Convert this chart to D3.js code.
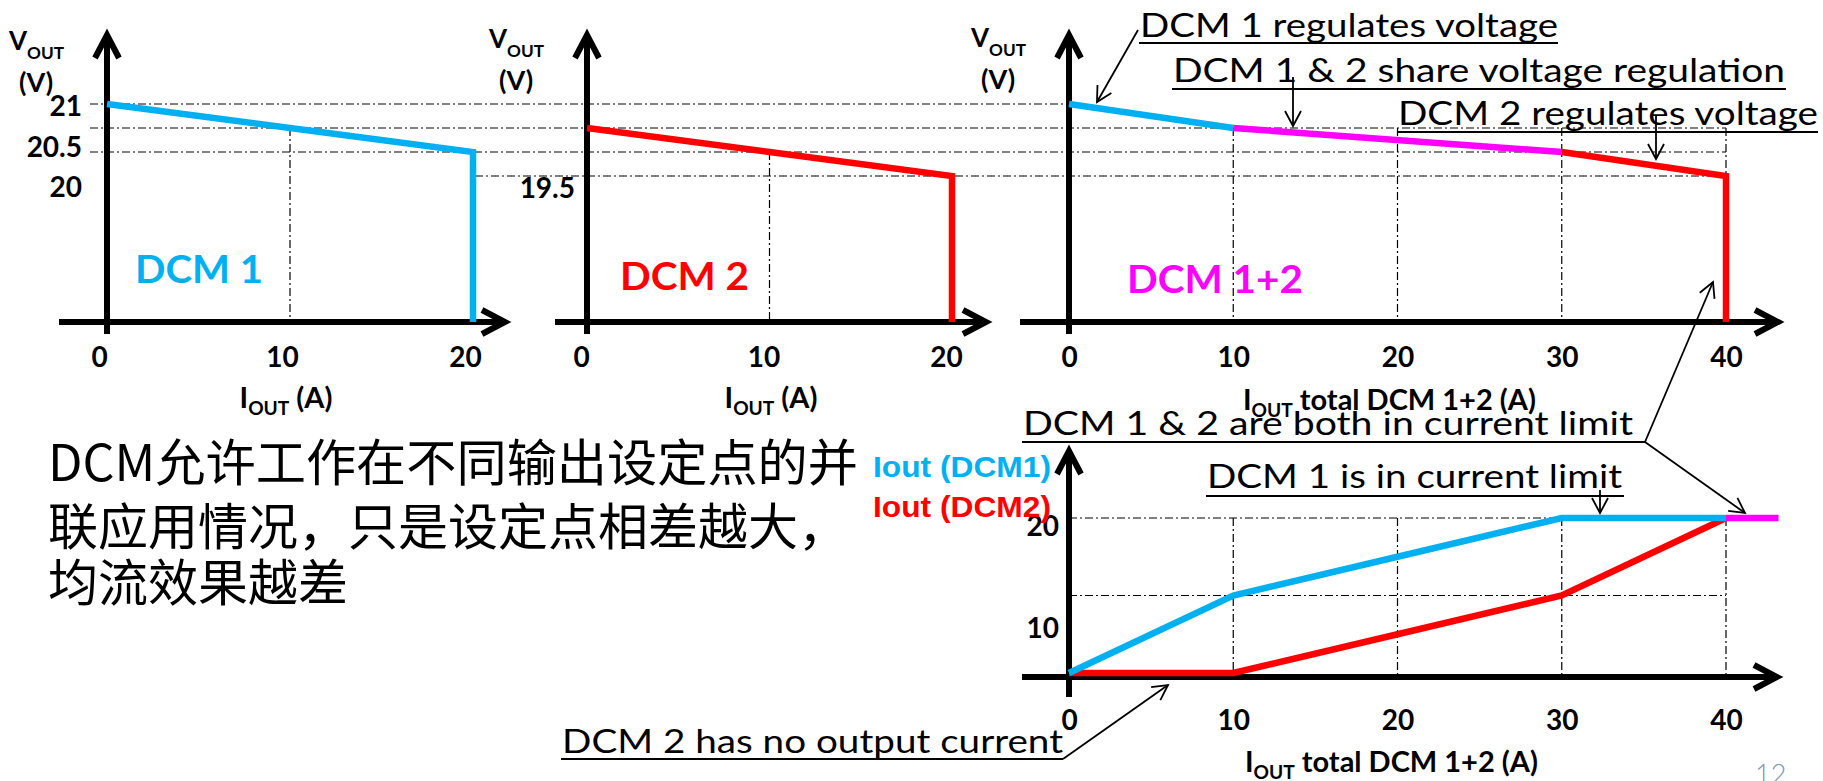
<!DOCTYPE html>
<html><head><meta charset="utf-8">
<script src="https://cdn.jsdelivr.net/npm/d3@7"></script>
<style>body{margin:0;background:#fff}svg{display:block}</style>
</head><body><svg id="c" width="1823" height="781"></svg>
<script>
// ---------- data ----------
const dcm1Current = [0, 10, 20];
const dcm1Voltage = [21, 20.75, 20.5];
const dcm2Current = [0, 10, 20];
const dcm2Voltage = [20.75, 20.5, 20.25];
const comboCurrent = [0, 10, 30, 40];
const comboVoltage = [21, 20.75, 20.5, 20.25];
const comboColors = ["#00b0f0", "#ff00ff", "#ff0000"];
const voltageGrid = [21, 20.75, 20.5, 20.25];
const totalCurrent = [0, 10, 20, 30, 40];
const dcm1Share = [0, 10, 15, 20, 20];
const dcm2Share = [0, 0, 5, 10, 20];
const bothLimitCurrent = [40, 43.2];
const bothLimitLevel = 20;
const currentGrid = [20, 10];
const xTicksSingle = [0, 10, 20];
const xTicksTotal = [0, 10, 20, 30, 40];
const vTickLabels1 = ["21", "20.5", "20"];
const vTickPos1 = [20.97, 20.55, 20.125];
const vTickLabels2 = ["19.5"];
const vTickPos2 = [20.115];
const iTickLabels = ["20", "10"];
const iTickPos = [18.9, 5.7];
const cnLines = ["DCM允许工作在不同输出设定点的并", "联应用情况，只是设定点相差越大，", "均流效果越差"];
const annotations = [
  "DCM 1 regulates voltage",
  "DCM 1 & 2 share voltage regulation",
  "DCM 2 regulates voltage",
  "DCM 1 & 2 are both in current limit",
  "DCM 1 is in current limit",
  "DCM 2 has no output current"
];

// ---------- setup ----------
const svg = d3.select("#c");
const BLUE = "#00b0f0", RED = "#ff0000", MAG = "#ff00ff";
const axisY = 322, lowAxisY = 677;
const BOLD = "Lato, 'Open Sans', sans-serif";

const yV = d3.scaleLinear().domain([20.25, 21]).range([176, 104]);
const x1 = d3.scaleLinear().domain([0, 20]).range([107, 473]);
const x2 = d3.scaleLinear().domain([0, 20]).range([587, 952]);
const x3 = d3.scaleLinear().domain([0, 40]).range([1069, 1726]);
const yI = d3.scaleLinear().domain([0, 20]).range([673, 518]);

const gridG = svg.append("g").attr("stroke", "#000").attr("stroke-width", 1.2)
  .attr("stroke-dasharray", "8,3,2,3").attr("fill", "none");
function gline(xa, ya, xb, yb) {
  gridG.append("line").attr("x1", xa).attr("y1", ya).attr("x2", xb).attr("y2", yb);
}

// ---------- grids ----------
const gridLeft = [90, 90, 90, 475];
voltageGrid.forEach((v, i) => {
  const right = i === 0 ? x3(0) : x3(40);
  gline(gridLeft[i], yV(v), right, yV(v));
});
gline(x1(10), yV(20.75), x1(10), axisY);
gline(x2(10), yV(20.5), x2(10), axisY);
[10, 20, 30, 40].forEach(c => gline(x3(c), yV(20.75), x3(c), axisY));
currentGrid.forEach(c => gline(x3(0), yI(c), x3(40), yI(c)));
[10, 20, 30, 40].forEach(c => gline(x3(c), yI(20), x3(c), lowAxisY));

// ---------- axis lines with arrows ----------
function axisArrow(xa, ya, xb, yb) {
  const g = svg.append("g").attr("stroke", "#000").attr("stroke-width", 6).attr("fill", "none");
  const dx = xb - xa, dy = yb - ya, L = Math.hypot(dx, dy), ux = dx / L, uy = dy / L, nx = -uy, ny = ux;
  g.append("line").attr("x1", xa).attr("y1", ya).attr("x2", xb - 3 * ux).attr("y2", yb - 3 * uy);
  const len = 23, hw = 12;
  g.append("polyline").attr("stroke-linejoin", "miter")
    .attr("points", [[xb - len * ux + hw * nx, yb - len * uy + hw * ny], [xb, yb], [xb - len * ux - hw * nx, yb - len * uy - hw * ny]].map(p => p.join(",")).join(" "));
}
axisArrow(59, axisY, 505, axisY); axisArrow(x1(0), 334, x1(0), 35);
axisArrow(555, axisY, 986, axisY); axisArrow(x2(0), 334, x2(0), 35);
axisArrow(1020, axisY, 1778, axisY); axisArrow(x3(0), 334, x3(0), 35);
axisArrow(1022, lowAxisY, 1777, lowAxisY); axisArrow(x3(0), 697, x3(0), 451);

// ---------- tick labels via d3 axes ----------
function styleAxis(g) {
  g.select(".domain").remove();
  g.selectAll(".tick line").remove();
  g.attr("font-family", BOLD).attr("font-size", 28).attr("font-weight", 700);
  g.selectAll("text").attr("fill", "#000");
}
svg.append("g").attr("transform", `translate(-8,${axisY})`)
  .call(d3.axisBottom(x1).tickValues(xTicksSingle).tickSize(0).tickPadding(25).tickFormat(d3.format("d"))).call(styleAxis);
svg.append("g").attr("transform", `translate(-6,${axisY})`)
  .call(d3.axisBottom(x2).tickValues(xTicksSingle).tickSize(0).tickPadding(25).tickFormat(d3.format("d"))).call(styleAxis);
svg.append("g").attr("transform", `translate(0,${axisY})`)
  .call(d3.axisBottom(x3).tickValues(xTicksTotal).tickSize(0).tickPadding(25).tickFormat(d3.format("d"))).call(styleAxis);
svg.append("g").attr("transform", `translate(0,${lowAxisY + 8})`)
  .call(d3.axisBottom(x3).tickValues(xTicksTotal).tickSize(0).tickPadding(25).tickFormat(d3.format("d"))).call(styleAxis);
svg.append("g").attr("transform", `translate(${x1(0)},0)`)
  .call(d3.axisLeft(yV).tickValues(vTickPos1).tickSize(0).tickPadding(25).tickFormat((d, i) => vTickLabels1[i])).call(styleAxis);
svg.append("g").attr("transform", `translate(${x2(0)},0)`)
  .call(d3.axisLeft(yV).tickValues(vTickPos2).tickSize(0).tickPadding(12).tickFormat((d, i) => vTickLabels2[i])).call(styleAxis);
svg.append("g").attr("transform", `translate(${x3(0)},0)`)
  .call(d3.axisLeft(yI).tickValues(iTickPos).tickSize(0).tickPadding(10).tickFormat((d, i) => iTickLabels[i])).call(styleAxis);

// ---------- data lines ----------
function drawLine(xs, ys, xsc, ysc, color, dropTo) {
  const pts = xs.map((x, i) => [xsc(x), ysc(ys[i])]);
  let d = d3.line()(pts);
  if (dropTo !== undefined) d += `L${pts[pts.length - 1][0]},${dropTo}`;
  svg.append("path").attr("d", d).attr("fill", "none").attr("stroke", color)
    .attr("stroke-width", 6.5).attr("stroke-linejoin", "miter");
}
drawLine(dcm1Current, dcm1Voltage, x1, yV, BLUE, axisY);
drawLine(dcm2Current, dcm2Voltage, x2, yV, RED, axisY);
comboColors.forEach((c, i) => {
  const last = i === comboColors.length - 1;
  drawLine(comboCurrent.slice(i, i + 2), comboVoltage.slice(i, i + 2), x3, yV, c, last ? axisY : undefined);
});
drawLine(totalCurrent, dcm2Share, x3, yI, RED);
drawLine(totalCurrent, dcm1Share, x3, yI, BLUE);
drawLine(bothLimitCurrent, [bothLimitLevel, bothLimitLevel], x3, yI, MAG);

// ---------- labels ----------
function subLabel(x, y, main, sub, rest, anchor, size, subDy) {
  const t = svg.append("text").attr("x", x).attr("y", y).attr("text-anchor", anchor)
    .attr("font-family", BOLD).attr("font-weight", 700).attr("font-size", size).attr("fill", "#000");
  t.append("tspan").text(main);
  t.append("tspan").attr("font-size", size * 0.66).attr("dy", subDy).text(sub);
  if (rest) t.append("tspan").attr("dy", -subDy).text(rest);
  return t;
}
// V_OUT (V) labels
[x1(0), x2(0), x3(0)].forEach((ax, i) => {
  const vb = [50, 48, 47][i];
  subLabel(ax - 98, vb, "V", "OUT", null, "start", 26, 9);
  svg.append("text").attr("x", ax - 71).attr("y", vb + 42).attr("text-anchor", "middle")
    .attr("font-family", BOLD).attr("font-weight", 700).attr("font-size", 27).text("(V)");
});
// I_OUT axis titles
subLabel(286, 408, "I", "OUT", " (A)", "middle", 29, 7);
subLabel(771, 408, "I", "OUT", " (A)", "middle", 29, 7);
subLabel(1243, 410, "I", "OUT", " total DCM 1+2 (A)", "start", 29, 7);
subLabel(1245, 772, "I", "OUT", " total DCM 1+2 (A)", "start", 29, 7);

function bigLabel(x, y, txt, color, w) {
  svg.append("text").attr("x", x).attr("y", y).attr("font-family", BOLD).attr("font-weight", 700)
    .attr("font-size", 39).attr("fill", color).attr("textLength", w).attr("lengthAdjust", "spacingAndGlyphs").text(txt);
}
bigLabel(135, 283, "DCM 1", BLUE, 128);
bigLabel(620, 290, "DCM 2", RED, 129);
bigLabel(1127, 293, "DCM 1+2", MAG, 176);

// legend
[["Iout (DCM1)", BLUE, 477], ["Iout (DCM2)", RED, 517]].forEach(([t, c, y]) => {
  svg.append("text").attr("x", 873).attr("y", y).attr("font-family", "'Liberation Sans', Arial, sans-serif")
    .attr("font-weight", 700).attr("font-size", 30).attr("fill", c)
    .attr("textLength", 178).attr("lengthAdjust", "spacingAndGlyphs").text(t);
});

// Chinese text
const cnBase = [481, 545, 601];
cnLines.forEach((t, i) => {
  const el = svg.append("text").attr("x", 48).attr("y", cnBase[i])
    .attr("font-family", "'Noto Sans CJK SC', sans-serif").attr("font-size", 50).attr("fill", "#000").text(t);
  if (i === 0) el.attr("textLength", 810).attr("lengthAdjust", "spacingAndGlyphs");
});

// page number
svg.append("text").attr("x", 1755).attr("y", 784).attr("font-family", "Lato, sans-serif")
  .attr("font-weight", 300).attr("font-size", 27).attr("fill", "#8497b0").text("12");

// ---------- annotations ----------
const annPos = [
  [1140, 37, 418, 43, 1558],
  [1173, 82, 612, 89, 1786],
  [1398, 125, 420, 132, 1818],
  [1023, 435, 610, 442, 1645],
  [1207, 488, 415, 496, 1624],
  [562, 753, 501, 759, 1063]
];
annotations.forEach((t, i) => {
  const [x, y, w, uy, ux2] = annPos[i];
  svg.append("text").attr("x", x).attr("y", y).attr("font-family", "Lato, sans-serif")
    .attr("font-size", 32).attr("fill", "#000").attr("textLength", w)
    .attr("lengthAdjust", "spacingAndGlyphs").text(t);
  svg.append("line").attr("x1", x - 1).attr("x2", ux2).attr("y1", uy).attr("y2", uy)
    .attr("stroke", "#000").attr("stroke-width", 2.2);
});
function arrow(pts) {
  const g = svg.append("g").attr("stroke", "#000").attr("stroke-width", 1.8).attr("fill", "none");
  g.append("polyline").attr("points", pts.map(p => p.join(",")).join(" "));
  const [xa, ya] = pts[pts.length - 2], [xb, yb] = pts[pts.length - 1];
  const dx = xb - xa, dy = yb - ya, L = Math.hypot(dx, dy), ux = dx / L, uy = dy / L, nx = -uy, ny = ux;
  const len = 15, hw = 8;
  g.append("polyline").attr("points",
    [[xb - len * ux + hw * nx, yb - len * uy + hw * ny], [xb, yb], [xb - len * ux - hw * nx, yb - len * uy - hw * ny]].map(p => p.join(",")).join(" "));
}
arrow([[1138, 30], [1097, 102]]);
arrow([[1293, 77], [1293, 126]]);
arrow([[1656, 115], [1656, 159]]);
arrow([[1645, 442], [1713, 282]]);
arrow([[1645, 442], [1745, 513]]);
arrow([[1600, 490], [1600, 513]]);
arrow([[1063, 759], [1168, 685]]);
</script></body></html>
